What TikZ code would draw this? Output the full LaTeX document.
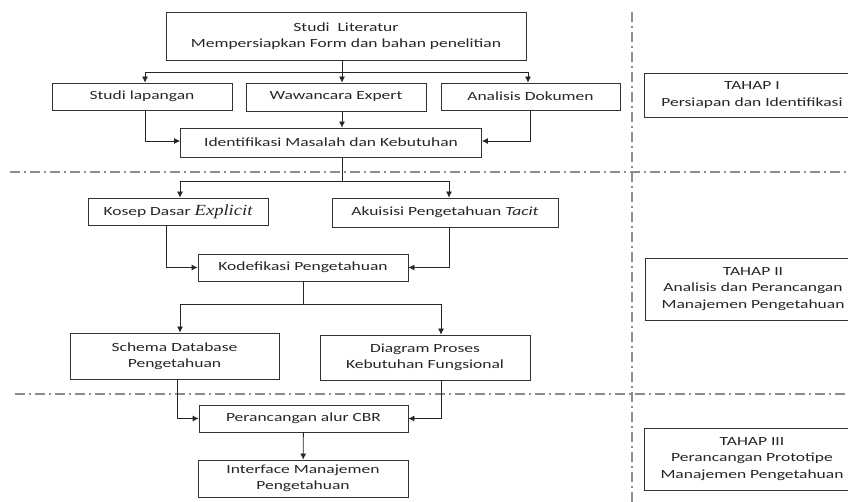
\documentclass[tikz,border=0pt]{standalone}
\usepackage{fontspec}
\setmainfont{Carlito}[FakeStretch=1.4]
\newfontfamily\explfont{Liberation Serif}[FakeStretch=1.2]
\usetikzlibrary{arrows.meta,positioning,calc}

\begin{document}
\begin{tikzpicture}
[x=1pt,y=-1pt,
    box/.style={draw=black!80,line width=.8pt,shape=rectangle,inner sep=0pt,align=center,
        text=black!85,font=\fontsize{12.5}{16.5}\selectfont},
    tahap/.style={box,minimum width=216pt},
    phase/.style={draw=black!45,line width=1.3pt,dash pattern=on 10pt off 4pt on 2pt off 4pt},
myedge/.style={>={Latex[length=6pt,width=6pt]}, shorten >=.0pt, shorten <=.0pt,line width=.8pt,draw=black!85}]
\useasboundingbox (0,0) rectangle (848,502);
%%%%%%%%%%
%%%%% phase separators
\draw[phase] (10,172) -- (848,172);
\draw[phase] (15,394) -- (848,394);
\draw[phase] (632,12) -- (632,502);
%%
%% TAHAP I
\node (lit) [box,minimum width=360pt,minimum height=48pt] at (346,36)
    {Studi~~Literatur\\Mempersiapkan Form dan bahan penelitian};
\node (lap) [box,minimum width=180pt,minimum height=27pt] at (142,96.5) {Studi lapangan};
\node (waw) [box,minimum width=180pt,minimum height=28pt] at (336,97) {Wawancara Expert};
\node (dok) [box,minimum width=179pt,minimum height=27pt] at (530.5,96.5) {Analisis Dokumen};
\node (idm) [box,minimum width=301pt,minimum height=29pt] at (331,142.5) {Identifikasi Masalah dan Kebutuhan};
%% TAHAP II
\node (kdx) [box,minimum width=180pt,minimum height=27pt] at (178,211.5)
    {Kosep Dasar {\explfont\itshape\fontsize{15.5}{16}\selectfont Explicit}};
\node (aku) [box,minimum width=226pt,minimum height=29pt] at (445,212.5) {Akuisisi Pengetahuan \textit{Tacit}};
\node (kod) [box,minimum width=210pt,minimum height=27pt] at (303,267.5) {Kodefikasi Pengetahuan};
\node (sch) [box,minimum width=209pt,minimum height=46pt] at (174.5,356) {Schema Database\\Pengetahuan};
\node (dia) [box,minimum width=210pt,minimum height=45pt] at (425,357.5) {Diagram Proses\\Kebutuhan Fungsional};
%% TAHAP III
\node (cbr) [box,minimum width=209pt,minimum height=27pt] at (303.5,418.5) {Perancangan alur CBR};
\node (ifc) [box,minimum width=210pt,minimum height=37pt] at (303,478.5) {Interface Manajemen\\Pengetahuan};
%% phase labels
\node (t1) [tahap,minimum height=44pt] at (752,95) {TAHAP I\\Persiapan dan Identifikasi};
\node (t2) [tahap,minimum height=62pt] at (753,289) {TAHAP II\\Analisis dan Perancangan\\Manajemen Pengetahuan};
\node (t3) [tahap,minimum height=62pt] at (752,459) {TAHAP III\\Perancangan Prototipe\\Manajemen Pengetahuan};
%% edges
\coordinate (sp1) at (342,72);
\coordinate (sp2) at (342,181);
\coordinate (sp3) at (303,304);
\draw[myedge,->] (lit.south -| sp1) -- (waw.north -| sp1);
\draw[myedge,->] (sp1) -| ([xshift=3pt]lap.north);
\draw[myedge,->] (sp1) -| ([xshift=-2.5pt]dok.north);
\draw[myedge,->] (waw.south -| sp1) -- (idm.north -| sp1);
\draw[myedge,->] ([xshift=3pt]lap.south) |- ([yshift=1.5pt]idm.west);
\draw[myedge,->] ([xshift=-0.5pt]dok.south) |- ([yshift=1.5pt]idm.east);
%%
\draw[myedge] (idm.south -| sp2) -- (sp2);
\draw[myedge,->] (sp2) -| ([xshift=2pt]kdx.north);
\draw[myedge,->] (sp2) -| ([xshift=4pt]aku.north);
\draw[myedge,->] ([xshift=-12pt]kdx.south) |- (kod);
\draw[myedge,->] ([xshift=4pt]aku.south) |- (kod);
\draw[myedge] (kod) -- (sp3);
\draw[myedge,->] (sp3) -| ([xshift=5.5pt]sch.north);
\draw[myedge,->] (sp3) -| ([xshift=16pt]dia.north);
%%
\draw[myedge,->] ([xshift=2.5pt]sch.south) |- (cbr);
\draw[myedge,->] ([xshift=16pt]dia.south) |- (cbr);
\draw[myedge,->] (cbr) -- (ifc);
\end{tikzpicture}
\end{document}
